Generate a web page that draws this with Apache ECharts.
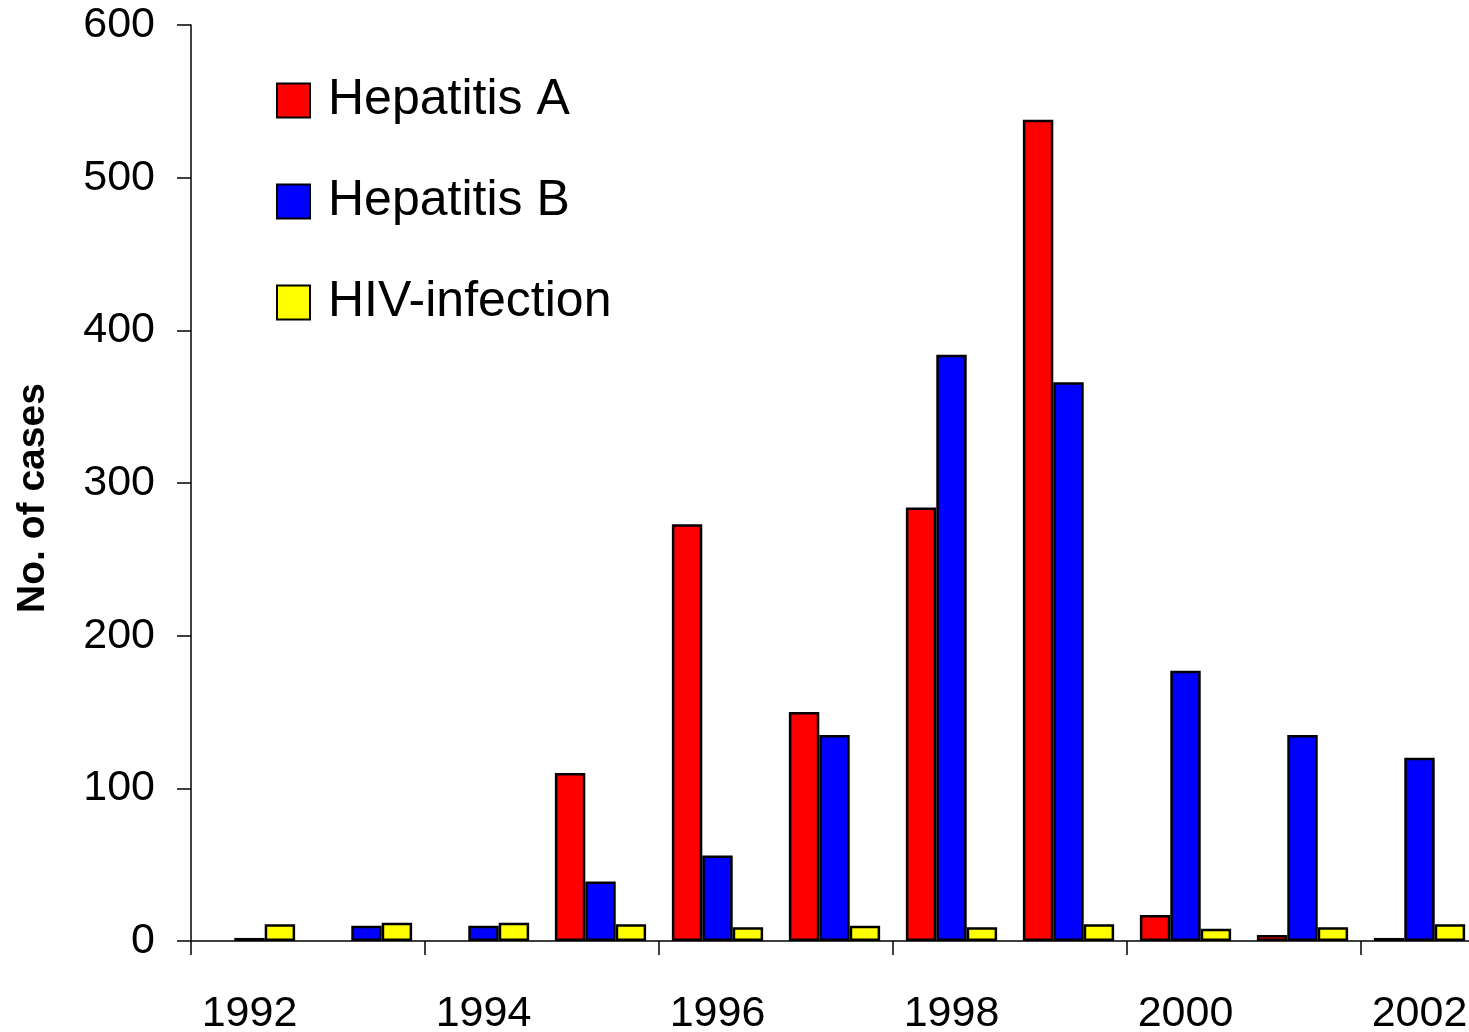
<!DOCTYPE html>
<html>
<head>
<meta charset="utf-8">
<title>Cases by year</title>
<script src="https://cdn.jsdelivr.net/npm/echarts@6/dist/echarts.min.js"></script>
<style>
  html, body { margin: 0; padding: 0; background: #fff; }
  #chart { width: 1469px; height: 1032px; }
</style>
</head>
<body>
<div id="chart"></div>
<script>
  const years = ['1992', '1993', '1994', '1995', '1996', '1997', '1998', '1999', '2000', '2001', '2002'];
  const hepatitisA = [0, 0, 0, 110, 273, 150, 284, 538, 17, 4, 2];
  const hepatitisB = [2, 10, 10, 39, 56, 135, 384, 366, 177, 135, 120];
  const hivInfection = [11, 12, 12, 11, 9, 10, 9, 11, 8, 9, 11];

  const font = '"Liberation Sans", Arial, Helvetica, sans-serif';
  const chart = echarts.init(document.getElementById('chart'));

  // zero values get no outline, like the original (no bar drawn at all)
  const toBars = function (values) {
    return values.map(function (v) {
      return v === 0 ? { value: 0, itemStyle: { borderWidth: 0 } } : v;
    });
  };

  const barStyle = function (color) {
    return { color: color, borderColor: '#000', borderWidth: 2.5 };
  };

  const option = {
    backgroundColor: '#fff',
    animation: false,
    textStyle: { fontFamily: font, color: '#000' },
    grid: {
      left: 191,
      top: 25,
      width: 1287,
      bottom: 91,
      containLabel: false,
      outerBoundsMode: 'none'
    },
    legend: {
      orient: 'vertical',
      left: 276,
      top: 75,
      padding: 0,
      icon: 'rect',
      itemWidth: 33,
      itemHeight: 34,
      itemGap: 50,
      textStyle: {
        fontFamily: font,
        fontSize: 50,
        lineHeight: 51,
        color: '#000',
        padding: [0, 0, 0, 13]
      },
      data: ['Hepatitis A', 'Hepatitis B', 'HIV-infection']
    },
    xAxis: {
      type: 'category',
      data: years,
      axisLine: { lineStyle: { color: '#000', width: 1.5 } },
      axisTick: {
        show: true,
        alignWithLabel: false,
        interval: 1,
        length: 14,
        lineStyle: { color: '#000', width: 1.5 }
      },
      axisLabel: {
        interval: 1,
        fontSize: 43,
        color: '#000',
        fontFamily: font,
        margin: 52
      }
    },
    yAxis: {
      type: 'value',
      min: 0,
      max: 600,
      interval: 100,
      name: 'No. of cases',
      nameLocation: 'middle',
      nameRotate: 90,
      nameGap: 138,
      nameTextStyle: {
        fontFamily: font,
        fontSize: 39,
        fontWeight: 'bold',
        color: '#000',
        padding: [0, 30, 0, 0]
      },
      axisLine: { show: true, lineStyle: { color: '#000', width: 1.5 } },
      axisTick: { show: true, length: 14, lineStyle: { color: '#000', width: 1.5 } },
      axisLabel: {
        fontSize: 43,
        color: '#000',
        fontFamily: font,
        margin: 36
      },
      splitLine: { show: false }
    },
    series: [
      {
        name: 'Hepatitis A',
        type: 'bar',
        data: toBars(hepatitisA),
        barGap: '0%',
        barCategoryGap: '22%',
        itemStyle: barStyle('#ff0000')
      },
      {
        name: 'Hepatitis B',
        type: 'bar',
        data: toBars(hepatitisB),
        barGap: '0%',
        barCategoryGap: '22%',
        itemStyle: barStyle('#0000ff')
      },
      {
        name: 'HIV-infection',
        type: 'bar',
        data: toBars(hivInfection),
        barGap: '0%',
        barCategoryGap: '22%',
        itemStyle: barStyle('#ffff00')
      }
    ]
  };

  chart.setOption(option);
</script>
</body>
</html>
